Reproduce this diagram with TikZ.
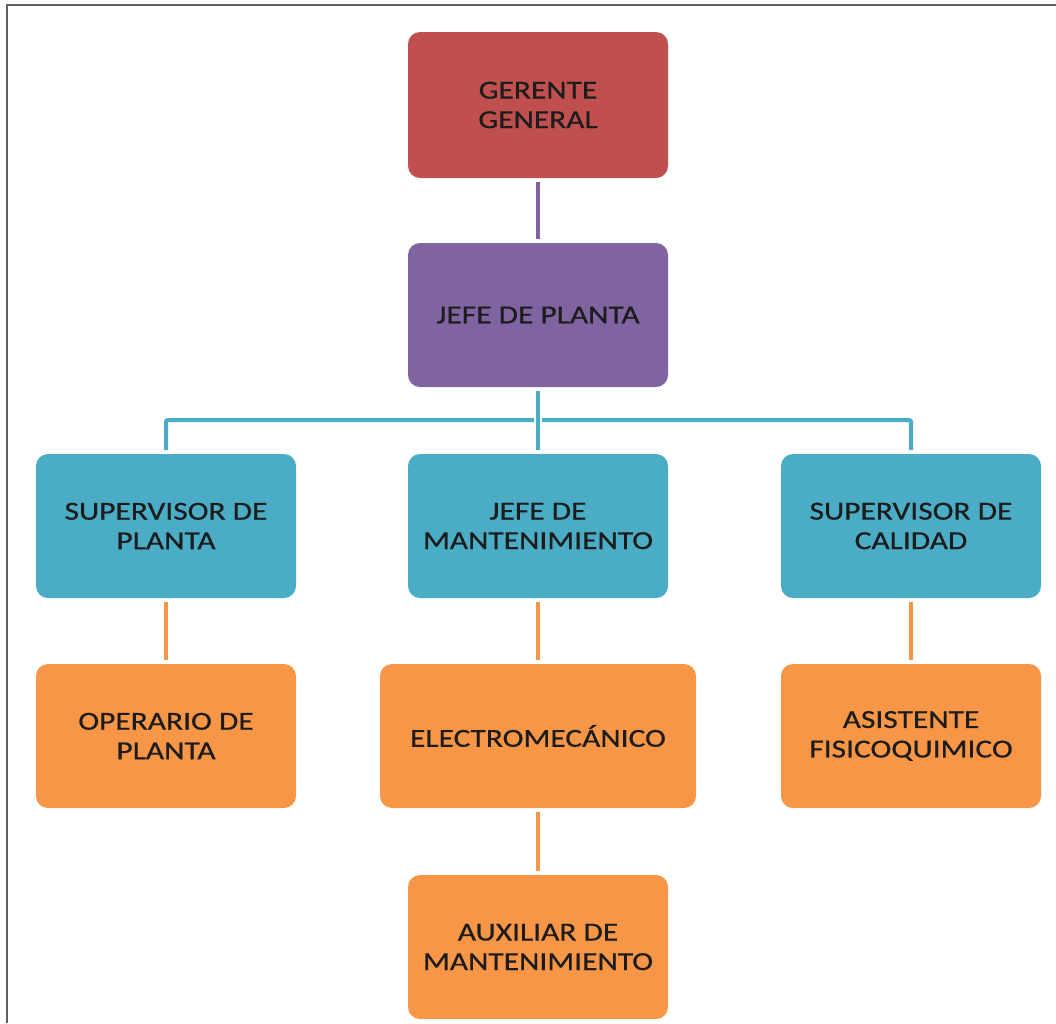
\documentclass[tikz,border=0pt]{standalone}
\usepackage{fontspec}
\setmainfont{Carlito}[FakeStretch=1.21, FakeBold=0.5]
\definecolor{cred}{HTML}{C0504D}
\definecolor{cpurple}{HTML}{8064A2}
\definecolor{cblue}{HTML}{4BACC6}
\definecolor{corange}{HTML}{F79646}
\definecolor{ctext}{HTML}{1C1C1C}
\definecolor{cframe}{HTML}{606060}
\tikzset{
  box/.style={draw=none, rounded corners=12pt, minimum width=260pt, minimum height=144pt,
    inner sep=0pt, outer sep=0pt, align=center, text=ctext,
    font=\fontsize{26}{29.5}\selectfont},
  redbox/.style={box, fill=cred},
  purplebox/.style={box, fill=cpurple},
  bluebox/.style={box, fill=cblue},
  orangebox/.style={box, fill=corange},
  link/.style={line width=4pt, shorten <=4pt, shorten >=4pt},
}
\begin{document}
\begin{tikzpicture}[x=1pt,y=-1pt]
\useasboundingbox (0,0) rectangle (1056,1023);
\draw[cframe, line width=2pt] (7,1023) -- (7,5) -- (1056,5);

\node[redbox, minimum height=146pt] (ger) at (538,105) {GERENTE\\GENERAL};
\node[purplebox] (jp) at (538,315) {JEFE DE PLANTA};
\node[bluebox] (sp) at (166,526) {SUPERVISOR DE\\PLANTA};
\node[bluebox] (jm) at (538,526) {JEFE DE\\MANTENIMIENTO};
\node[bluebox] (sc) at (911,526) {SUPERVISOR DE\\CALIDAD};
\node[orangebox] (op) at (166,736) {OPERARIO DE\\PLANTA};
\node[orangebox, minimum width=316pt] (el) at (538,736) {ELECTROMEC\'ANICO};
\node[orangebox] (as) at (911,736) {ASISTENTE\\FISICOQUIMICO};
\node[orangebox] (au) at (538,947) {AUXILIAR DE\\MANTENIMIENTO};

\coordinate (bus) at (538,420);

\draw[link, cpurple] (ger.south) -- (jp.north);
\draw[link, cblue] (jp.south) -- (jm.north);
\draw[link, cblue, rounded corners=2pt] (jp.south |- bus) -| (sp.north);
\draw[link, cblue, rounded corners=2pt] (jp.south |- bus) -| (sc.north);
\draw[link, corange] (sp.south) -- (op.north);
\draw[link, corange] (jm.south) -- (el.north);
\draw[link, corange] (sc.south) -- (as.north);
\draw[link, corange] (el.south) -- (au.north);
\end{tikzpicture}
\end{document}
